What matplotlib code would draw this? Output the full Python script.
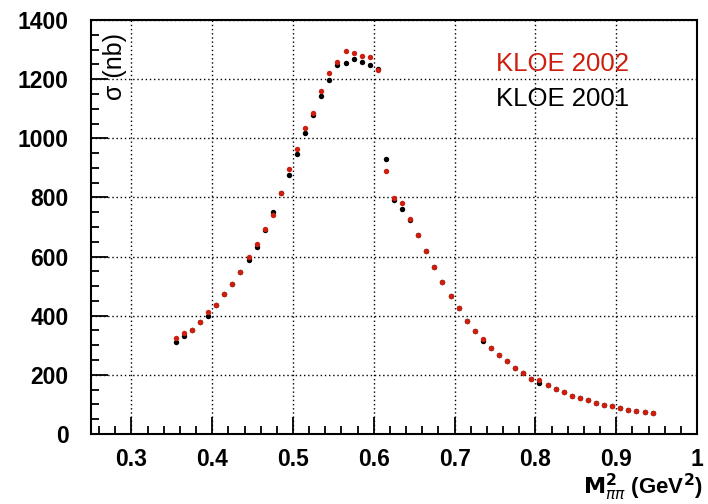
import numpy as np
import matplotlib
matplotlib.use("Agg")
import matplotlib.pyplot as plt
from matplotlib.ticker import MultipleLocator

# bin centres in M^2_pipi (GeV^2)
m2 = [0.355, 0.365, 0.375, 0.385, 0.395, 0.405, 0.415, 0.425, 0.435, 0.445,
      0.455, 0.465, 0.475, 0.485, 0.495, 0.505, 0.515, 0.525, 0.535, 0.545,
      0.555, 0.565, 0.575, 0.585, 0.595, 0.605, 0.615, 0.625, 0.635, 0.645,
      0.655, 0.665, 0.675, 0.685, 0.695, 0.705, 0.715, 0.725, 0.735, 0.745,
      0.755, 0.765, 0.775, 0.785, 0.795, 0.805, 0.815, 0.825, 0.835, 0.845,
      0.855, 0.865, 0.875, 0.885, 0.895, 0.905, 0.915, 0.925, 0.935, 0.945]

# sigma (nb), KLOE 2002
sig_2002 = [324, 343, 352, 379, 411, 437, 473, 506, 549, 598,
            642, 692, 740, 814, 895, 963, 1034, 1087, 1161, 1221,
            1257, 1294, 1289, 1279, 1277, 1232, 890, 798, 780, 728,
            673, 619, 564, 514, 468, 427, 383, 349, 321, 292,
            267, 246, 224, 205, 187, 183, 164, 151, 141, 130,
            122, 114, 106, 98, 94, 88, 82, 77, 73, 70]

# sigma (nb), KLOE 2001
sig_2001 = [312, 331, 352, 379, 400, 437, 473, 506, 549, 590,
            633, 690, 751, 814, 877, 946, 1019, 1078, 1145, 1196,
            1248, 1255, 1267, 1260, 1248, 1234, 929, 790, 762, 724,
            673, 619, 564, 514, 468, 427, 383, 349, 316, 292,
            267, 246, 224, 205, 187, 174, 164, 151, 141, 130,
            122, 114, 106, 98, 94, 88, 82, 77, 73, 70]

red = "#cc1f0f"
plt.rcParams["font.family"] = ["Liberation Sans", "DejaVu Sans"]

fig = plt.figure(figsize=(7.08, 5.04), dpi=100)
ax = fig.add_axes([0.1285, 0.139, 0.856, 0.821])

ax.plot(m2, sig_2001, "o", color="black", ms=3.9, mew=0, zorder=3)
ax.plot(m2, sig_2002, "o", color=red, ms=3.9, mew=0, zorder=4)

ax.set_xlim(0.25, 1.0)
ax.set_ylim(0, 1400)
ax.xaxis.set_minor_locator(MultipleLocator(0.02))
ax.yaxis.set_major_locator(MultipleLocator(200))
ax.yaxis.set_minor_locator(MultipleLocator(50))
ax.set_xticks(np.arange(0.3, 1.01, 0.1))
ax.set_xticklabels(["0.3", "0.4", "0.5", "0.6", "0.7", "0.8", "0.9", "1"])

ax.tick_params(which="both", direction="in", top=False, right=False, width=1.3)
ax.tick_params(which="major", length=12, labelsize=16.5)
ax.tick_params(axis="y", which="major", pad=16)
ax.tick_params(axis="x", which="major", pad=10)
ax.tick_params(which="minor", length=6)
for lab in ax.get_xticklabels() + ax.get_yticklabels():
    lab.set_fontweight("bold")
for sp in ax.spines.values():
    sp.set_linewidth(1.5)

ax.grid(True, which="major", color="black", linestyle=(0, (1, 2)), linewidth=1.0)
ax.set_axisbelow(True)

ax.text(0.039, 0.97, "σ (nb)", transform=ax.transAxes, rotation=90,
        ha="center", va="top", fontsize=18)
ax.text(0.668, 0.895, "KLOE 2002", transform=ax.transAxes, color=red,
        fontsize=18.5, ha="left", va="center")
ax.text(0.668, 0.81, "KLOE 2001", transform=ax.transAxes, color="black",
        fontsize=18.5, ha="left", va="center")
fig.text(0.993, 0.019, r"$\mathbf{M}^{\mathbf{2}}_{\pi\pi}$ (GeV$^{\mathbf{2}}$)",
         ha="right", va="baseline", fontsize=16, fontweight="bold")

fig.savefig("out.png", dpi=100)
